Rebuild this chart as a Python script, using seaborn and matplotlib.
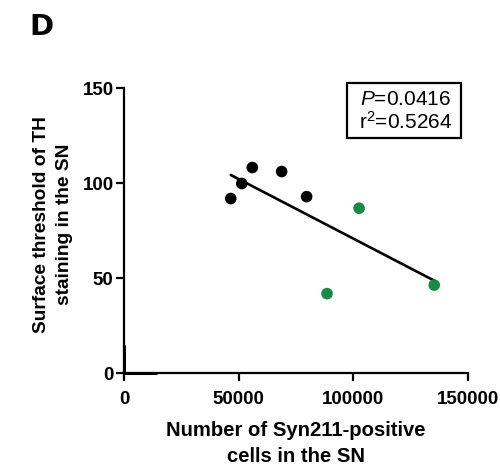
import numpy as np
import pandas as pd
import matplotlib.pyplot as plt
import seaborn as sns

# Syn211-positive cell counts vs TH surface threshold (SN)
syn_black = [46600, 51400, 56000, 68800, 79700]
th_black = [91.9, 99.8, 108.2, 106.1, 92.9]
syn_green = [102600, 88600, 135400]
th_green = [86.8, 41.9, 46.4]

p_text = "$\\it{P}$=0.0416"
r2_text = "r$^{\\mathrm{2}}$=0.5264"

sns.set_style("ticks", {"axes.edgecolor": "black", "text.color": "black",
                        "xtick.color": "black", "ytick.color": "black",
                        "axes.labelcolor": "black"})
plt.rcParams['font.family'] = ['Liberation Sans', 'DejaVu Sans']
plt.rcParams['mathtext.fontset'] = 'custom'
plt.rcParams['mathtext.rm'] = 'Liberation Sans'
plt.rcParams['mathtext.it'] = 'Liberation Sans:italic'

df = pd.DataFrame({
    "syn": syn_black + syn_green,
    "th": th_black + th_green,
    "grp": ["black"] * len(syn_black) + ["green"] * len(syn_green),
})

fig = plt.figure(figsize=(5, 4.7), dpi=100)
ax = fig.add_axes([0.248, 0.2057, 0.6874, 0.607])

# regression line over all points
sns.regplot(data=df, x="syn", y="th", ax=ax, scatter=False, ci=None,
            truncate=True, color="black", line_kws={"lw": 1.9})
sns.scatterplot(data=df, x="syn", y="th", hue="grp", ax=ax, s=70,
                palette={"black": "black", "green": "#178a45"},
                edgecolor="none", legend=False, clip_on=False, zorder=5)

ax.set_xlim(0, 150000)
ax.set_ylim(0, 150)
ax.set_xticks([0, 50000, 100000, 150000])
ax.set_yticks([0, 50, 100, 150])
sns.despine(ax=ax)
for s in ["left", "bottom"]:
    ax.spines[s].set_linewidth(1.6)
ax.tick_params(width=1.6, length=5.5, labelsize=13.5)
ax.tick_params(axis="x", pad=7)
ax.tick_params(axis="y", pad=2)
for lab in ax.get_xticklabels() + ax.get_yticklabels():
    lab.set_fontweight("bold")

# thicker stubs of the axes near the origin (as in the original figure)
ax.plot([0, 0], [0, 0.098], transform=ax.transAxes, color="black", lw=2.2,
        clip_on=False, solid_capstyle="butt")
ax.plot([0, 0.095], [0, 0], transform=ax.transAxes, color="black", lw=2.2,
        clip_on=False, solid_capstyle="butt")

ax.set_xlabel("Number of Syn211-positive\ncells in the SN", fontsize=14.6,
              fontweight="bold", linespacing=1.45)
ax.xaxis.set_label_coords(0.5, -0.167)
ax.set_ylabel("Surface threshold of TH\nstaining in the SN", fontsize=13.8,
              fontweight="bold", linespacing=1.5)
ax.yaxis.set_label_coords(-0.147, 0.523)

ax.add_patch(plt.Rectangle((0.649, 0.8247), 0.3315, 0.1928,
                           transform=ax.transAxes, fill=False, ec="black",
                           lw=1.6, clip_on=False))
ax.text(0.8205, 0.993, p_text + "\n" + r2_text, transform=ax.transAxes,
        ha="center", va="top", fontsize=15, linespacing=1.12)

fig.text(0.058, 0.972, "D", fontsize=21, fontweight="heavy", va="top",
         family="DejaVu Sans")

fig.savefig("out.png", dpi=100)
